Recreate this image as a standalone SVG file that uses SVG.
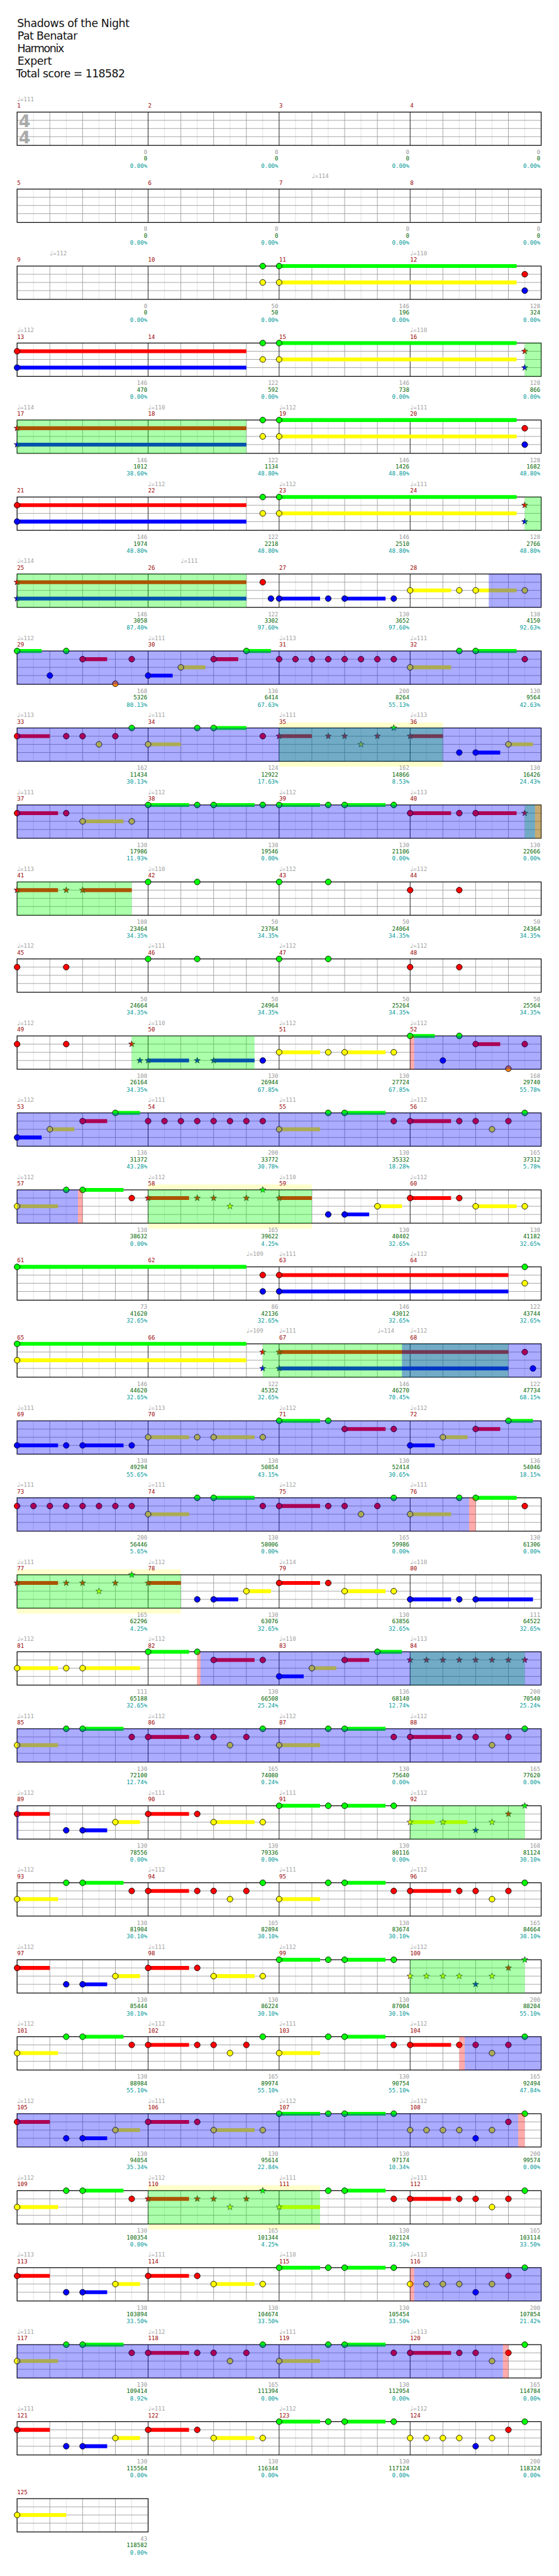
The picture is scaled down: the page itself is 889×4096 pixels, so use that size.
<svg xmlns="http://www.w3.org/2000/svg" width="889" height="4096" viewBox="0 0 889 4096">
<style>
text{font-family:"DejaVu Sans Mono","Liberation Mono",monospace;font-size:10.5px}
.ti{font-family:"DejaVu Sans","Liberation Sans",sans-serif;font-size:20px;fill:#111}
.ts{font-family:"DejaVu Sans","Liberation Sans",sans-serif;font-size:31px;font-weight:bold;fill:#aaa}
.mn{fill:#900}
.tp{fill:#a0a0a0}
.q{font-family:"DejaVu Sans",sans-serif;font-size:12px}
.a,.b,.c{text-anchor:end}
.a{fill:#999}.b{fill:#060}.c{fill:#099}
.lG,.lR,.lY,.lB{stroke-width:7;fill:none}
.lG{stroke:#0f0}.lR{stroke:#f00}.lY{stroke:#ff0}.lB{stroke:#00f}
.n{stroke:#000;stroke-width:1}
.sn{stroke:#222;stroke-width:.8}
.ob{fill:#00f;fill-opacity:.33}.og{fill:#0f0;fill-opacity:.33}.orr{fill:#f00;fill-opacity:.33}
.yb{fill:#ffc}
</style>
<defs>
<circle id="G" r="5.3" class="n" fill="#0f0"/>
<circle id="R" cy="15" r="5.3" class="n" fill="#f00"/>
<circle id="Y" cy="30" r="5.3" class="n" fill="#ff0"/>
<circle id="B" cy="45" r="5.3" class="n" fill="#00f"/>
<circle id="O" cy="60" r="5.3" class="n" fill="#f80"/>
<path id="st" class="sn" d="M0-6L1.41-1.94 5.71-1.85 2.28.74 3.53 4.85 0 2.4-3.53 4.85-2.28.74-5.71-1.85-1.41-1.94Z"/>
<use id="sG" href="#st" fill="#0f0"/>
<use id="sR" href="#st" y="15" fill="#f00"/>
<use id="sY" href="#st" y="30" fill="#ff0"/>
<use id="sB" href="#st" y="45" fill="#00f"/>
<g id="staff4">
<rect width="960" height="61" fill="#fff"/>
<path stroke="#ddd" d="M30 0V61M90 0V61M150 0V61M210 0V61M270 0V61M330 0V61M390 0V61M450 0V61M510 0V61M570 0V61M630 0V61M690 0V61M750 0V61M810 0V61M870 0V61M930 0V61"/>
<path stroke="#999" d="M60 0V61M120 0V61M180 0V61M300 0V61M360 0V61M420 0V61M540 0V61M600 0V61M660 0V61M780 0V61M840 0V61M900 0V61M0 15H960M0 30H960M0 45H960"/>
<path stroke="#000" d="M240 0V61M480 0V61M720 0V61"/>
<rect width="960" height="61" fill="none" stroke="#000" stroke-width="1.4"/>
</g>
<g id="staff1">
<rect width="240" height="61" fill="#fff"/>
<path stroke="#ddd" d="M30 0V61M90 0V61M150 0V61M210 0V61"/>
<path stroke="#999" d="M60 0V61M120 0V61M180 0V61M0 15H240M0 30H240M0 45H240"/>
<rect width="240" height="61" fill="none" stroke="#000" stroke-width="1.4"/>
</g>
<g id="mA1"><path class="lY" d="M0 30H75"/><path class="lG" d="M120 0H195"/><use href="#Y"/><use href="#G" x="90"/><use href="#G" x="120"/><use href="#R" x="210"/></g>
<g id="mA2"><path class="lR" d="M0 15H75"/><use href="#R"/><use href="#R" x="90"/><use href="#R" x="120"/><use href="#Y" x="150"/><use href="#R" x="180"/><use href="#G" x="210"/></g>
<g id="mB1"><path class="lR" d="M0 15H60"/><path class="lB" d="M120 45H165"/><path class="lY" d="M180 30H225"/><use href="#R"/><use href="#B" x="90"/><use href="#B" x="120"/><use href="#Y" x="180"/></g>
<g id="mB2"><path class="lR" d="M0 15H75"/><path class="lY" d="M120 30H195"/><use href="#R"/><use href="#R" x="90"/><use href="#Y" x="120"/><use href="#Y" x="210"/></g>
<g id="mB3"><path class="lG" d="M0 0H75M120 0H195"/><use href="#G"/><use href="#G" x="90"/><use href="#G" x="120"/><use href="#G" x="210"/></g>
<g id="mB4"><use href="#Y"/><use href="#Y" x="30"/><use href="#Y" x="60"/><use href="#Y" x="90"/><use href="#B" x="120"/><use href="#Y" x="150"/><use href="#R" x="180"/><use href="#G" x="210"/></g>
</defs>
<rect width="889" height="4096" fill="#fff"/>
<g transform="scale(0.868164)">
<g id="title">
<text class="ti" x="31.3" y="49.5" textLength="206">Shadows of the Night</text>
<text class="ti" x="32" y="72.5" textLength="110">Pat Benatar</text>
<text class="ti" x="31.7" y="95.5" textLength="86">Harmonix</text>
<text class="ti" x="32" y="118.5" textLength="63">Expert</text>
<text class="ti" x="29.3" y="141.5" textLength="200">Total score = 118582</text>
</g>

<g id="row1" transform="translate(31.3,205.3)">
<use href="#staff4"/>
<text class="ts" x="3" y="27">4</text><text class="ts" x="3" y="57">4</text>
<text class="mn" y="-8"><tspan x="0">1</tspan><tspan x="240">2</tspan><tspan x="480">3</tspan><tspan x="720">4</tspan></text>
<text class="tp" x="0" y="-20"><tspan class="q">♩</tspan>=111</text>
<text class="a" y="77"><tspan x="238.5">0</tspan><tspan x="478.5">0</tspan><tspan x="718.5">0</tspan><tspan x="958.5">0</tspan></text>
<text class="b" y="89"><tspan x="238.5">0</tspan><tspan x="478.5">0</tspan><tspan x="718.5">0</tspan><tspan x="958.5">0</tspan></text>
<text class="c" y="102"><tspan x="238.5">0.00%</tspan><tspan x="478.5">0.00%</tspan><tspan x="718.5">0.00%</tspan><tspan x="958.5">0.00%</tspan></text>
</g>

<g id="row2" transform="translate(31.3,346.3)">
<use href="#staff4"/>
<text class="mn" y="-8"><tspan x="0">5</tspan><tspan x="240">6</tspan><tspan x="480">7</tspan><tspan x="720">8</tspan></text>
<text class="tp" x="540" y="-20"><tspan class="q">♩</tspan>=114</text>
<text class="a" y="77"><tspan x="238.5">0</tspan><tspan x="478.5">0</tspan><tspan x="718.5">0</tspan><tspan x="958.5">0</tspan></text>
<text class="b" y="89"><tspan x="238.5">0</tspan><tspan x="478.5">0</tspan><tspan x="718.5">0</tspan><tspan x="958.5">0</tspan></text>
<text class="c" y="102"><tspan x="238.5">0.00%</tspan><tspan x="478.5">0.00%</tspan><tspan x="718.5">0.00%</tspan><tspan x="958.5">0.00%</tspan></text>
</g>

<g id="row3" transform="translate(31.3,487.3)">
<use href="#staff4"/>
<path class="lG" d="M480 0H915"/><path class="lY" d="M480 30H915"/>
<use href="#G" x="450"/><use href="#Y" x="450"/><use href="#G" x="480"/><use href="#Y" x="480"/><use href="#R" x="930"/><use href="#B" x="930"/>
<text class="mn" y="-8"><tspan x="0">9</tspan><tspan x="240">10</tspan><tspan x="480">11</tspan><tspan x="720">12</tspan></text>
<text class="tp" x="60" y="-20"><tspan class="q">♩</tspan>=112</text>
<text class="tp" x="720" y="-20"><tspan class="q">♩</tspan>=110</text>
<text class="a" y="77"><tspan x="238.5">0</tspan><tspan x="478.5">50</tspan><tspan x="718.5">146</tspan><tspan x="958.5">128</tspan></text>
<text class="b" y="89"><tspan x="238.5">0</tspan><tspan x="478.5">50</tspan><tspan x="718.5">196</tspan><tspan x="958.5">324</tspan></text>
<text class="c" y="102"><tspan x="238.5">0.00%</tspan><tspan x="478.5">0.00%</tspan><tspan x="718.5">0.00%</tspan><tspan x="958.5">0.00%</tspan></text>
</g>

<g id="row4" transform="translate(31.3,628.3)">
<use href="#staff4"/>
<path class="lR" d="M0 15H420"/><path class="lB" d="M0 45H420"/><path class="lG" d="M480 0H915"/><path class="lY" d="M480 30H915"/>
<use href="#R"/><use href="#B"/><use href="#G" x="450"/><use href="#Y" x="450"/><use href="#G" x="480"/><use href="#Y" x="480"/><use href="#sR" x="930"/><use href="#sB" x="930"/>
<rect class="og" x="930" width="30" height="61"/>
<text class="mn" y="-8"><tspan x="0">13</tspan><tspan x="240">14</tspan><tspan x="480">15</tspan><tspan x="720">16</tspan></text>
<text class="tp" x="0" y="-20"><tspan class="q">♩</tspan>=112</text>
<text class="tp" x="720" y="-20"><tspan class="q">♩</tspan>=110</text>
<text class="a" y="77"><tspan x="238.5">146</tspan><tspan x="478.5">122</tspan><tspan x="718.5">146</tspan><tspan x="958.5">128</tspan></text>
<text class="b" y="89"><tspan x="238.5">470</tspan><tspan x="478.5">592</tspan><tspan x="718.5">738</tspan><tspan x="958.5">866</tspan></text>
<text class="c" y="102"><tspan x="238.5">0.00%</tspan><tspan x="478.5">0.00%</tspan><tspan x="718.5">0.00%</tspan><tspan x="958.5">0.00%</tspan></text>
</g>

<g id="row5" transform="translate(31.3,769.3)">
<use href="#staff4"/>
<path class="lR" d="M0 15H420"/><path class="lB" d="M0 45H420"/><path class="lG" d="M480 0H915"/><path class="lY" d="M480 30H915"/>
<use href="#sR"/><use href="#sB"/><use href="#G" x="450"/><use href="#Y" x="450"/><use href="#G" x="480"/><use href="#Y" x="480"/><use href="#R" x="930"/><use href="#B" x="930"/>
<rect class="og" x="0" width="420" height="61"/>
<text class="mn" y="-8"><tspan x="0">17</tspan><tspan x="240">18</tspan><tspan x="480">19</tspan><tspan x="720">20</tspan></text>
<text class="tp" x="0" y="-20"><tspan class="q">♩</tspan>=114</text>
<text class="tp" x="240" y="-20"><tspan class="q">♩</tspan>=110</text>
<text class="tp" x="480" y="-20"><tspan class="q">♩</tspan>=112</text>
<text class="tp" x="720" y="-20"><tspan class="q">♩</tspan>=111</text>
<text class="a" y="77"><tspan x="238.5">146</tspan><tspan x="478.5">122</tspan><tspan x="718.5">146</tspan><tspan x="958.5">128</tspan></text>
<text class="b" y="89"><tspan x="238.5">1012</tspan><tspan x="478.5">1134</tspan><tspan x="718.5">1426</tspan><tspan x="958.5">1682</tspan></text>
<text class="c" y="102"><tspan x="238.5">38.60%</tspan><tspan x="478.5">48.80%</tspan><tspan x="718.5">48.80%</tspan><tspan x="958.5">48.80%</tspan></text>
</g>

<g id="row6" transform="translate(31.3,910.3)">
<use href="#staff4"/>
<path class="lR" d="M0 15H420"/><path class="lB" d="M0 45H420"/><path class="lG" d="M480 0H915"/><path class="lY" d="M480 30H915"/>
<use href="#R"/><use href="#B"/><use href="#G" x="450"/><use href="#Y" x="450"/><use href="#G" x="480"/><use href="#Y" x="480"/><use href="#sR" x="930"/><use href="#sB" x="930"/>
<rect class="og" x="930" width="30" height="61"/>
<text class="mn" y="-8"><tspan x="0">21</tspan><tspan x="240">22</tspan><tspan x="480">23</tspan><tspan x="720">24</tspan></text>
<text class="tp" x="240" y="-20"><tspan class="q">♩</tspan>=112</text>
<text class="tp" x="480" y="-20"><tspan class="q">♩</tspan>=112</text>
<text class="tp" x="720" y="-20"><tspan class="q">♩</tspan>=111</text>
<text class="a" y="77"><tspan x="238.5">146</tspan><tspan x="478.5">122</tspan><tspan x="718.5">146</tspan><tspan x="958.5">128</tspan></text>
<text class="b" y="89"><tspan x="238.5">1974</tspan><tspan x="478.5">2218</tspan><tspan x="718.5">2510</tspan><tspan x="958.5">2766</tspan></text>
<text class="c" y="102"><tspan x="238.5">48.80%</tspan><tspan x="478.5">48.80%</tspan><tspan x="718.5">48.80%</tspan><tspan x="958.5">48.80%</tspan></text>
</g>

<g id="row7" transform="translate(31.3,1051.3)">
<use href="#staff4"/>
<path class="lR" d="M0 15H420"/><path class="lB" d="M0 45H420M480 45H555M600 45H675"/><path class="lY" d="M720 30H795M840 30H915"/>
<use href="#sR"/><use href="#sB"/><use href="#R" x="450"/><use href="#B" x="465"/><use href="#B" x="480"/><use href="#B" x="570"/><use href="#B" x="600"/><use href="#B" x="690"/><use href="#Y" x="720"/><use href="#Y" x="810"/><use href="#Y" x="840"/><use href="#Y" x="930"/>
<rect class="og" x="0" width="420" height="61"/><rect class="ob" x="864" width="96" height="61"/>
<text class="mn" y="-8"><tspan x="0">25</tspan><tspan x="240">26</tspan><tspan x="480">27</tspan><tspan x="720">28</tspan></text>
<text class="tp" x="0" y="-20"><tspan class="q">♩</tspan>=114</text>
<text class="tp" x="300" y="-20"><tspan class="q">♩</tspan>=111</text>
<text class="a" y="77"><tspan x="238.5">146</tspan><tspan x="478.5">122</tspan><tspan x="718.5">130</tspan><tspan x="958.5">130</tspan></text>
<text class="b" y="89"><tspan x="238.5">3058</tspan><tspan x="478.5">3302</tspan><tspan x="718.5">3652</tspan><tspan x="958.5">4150</tspan></text>
<text class="c" y="102"><tspan x="238.5">87.40%</tspan><tspan x="478.5">97.60%</tspan><tspan x="718.5">97.60%</tspan><tspan x="958.5">92.63%</tspan></text>
</g>

<g id="row8" transform="translate(31.3,1192.3)">
<use href="#staff4"/>
<path class="lG" d="M0 0H45M420 0H465M840 0H915"/><path class="lR" d="M120 15H165M360 15H405"/><path class="lB" d="M240 45H285"/><path class="lY" d="M300 30H345M720 30H795"/>
<use href="#G"/><use href="#B" x="60"/><use href="#G" x="90"/><use href="#R" x="120"/><use href="#O" x="180"/><use href="#R" x="210"/><use href="#B" x="240"/><use href="#Y" x="300"/><use href="#R" x="360"/><use href="#G" x="420"/><use href="#R" x="480"/><use href="#R" x="510"/><use href="#R" x="540"/><use href="#R" x="570"/><use href="#R" x="600"/><use href="#R" x="630"/><use href="#R" x="660"/><use href="#R" x="690"/><use href="#Y" x="720"/><use href="#G" x="810"/><use href="#G" x="840"/><use href="#R" x="930"/>
<rect class="ob" x="0" width="960" height="61"/>
<text class="mn" y="-8"><tspan x="0">29</tspan><tspan x="240">30</tspan><tspan x="480">31</tspan><tspan x="720">32</tspan></text>
<text class="tp" x="0" y="-20"><tspan class="q">♩</tspan>=112</text>
<text class="tp" x="240" y="-20"><tspan class="q">♩</tspan>=111</text>
<text class="tp" x="480" y="-20"><tspan class="q">♩</tspan>=113</text>
<text class="tp" x="720" y="-20"><tspan class="q">♩</tspan>=111</text>
<text class="a" y="77"><tspan x="238.5">168</tspan><tspan x="478.5">136</tspan><tspan x="718.5">200</tspan><tspan x="958.5">130</tspan></text>
<text class="b" y="89"><tspan x="238.5">5326</tspan><tspan x="478.5">6414</tspan><tspan x="718.5">8264</tspan><tspan x="958.5">9564</tspan></text>
<text class="c" y="102"><tspan x="238.5">80.13%</tspan><tspan x="478.5">67.63%</tspan><tspan x="718.5">55.13%</tspan><tspan x="958.5">42.63%</tspan></text>
</g>

<g id="row9" transform="translate(31.3,1333.3)">
<rect class="yb" x="480" y="-10" width="300" height="81"/>
<use href="#staff4"/>
<path class="lR" d="M0 15H60M480 15H540M720 15H780"/><path class="lY" d="M240 30H300M900 30H945"/><path class="lG" d="M360 0H420"/><path class="lB" d="M840 45H885"/>
<use href="#R"/><use href="#R" x="90"/><use href="#R" x="120"/><use href="#Y" x="150"/><use href="#R" x="180"/><use href="#G" x="210"/><use href="#Y" x="240"/><use href="#G" x="330"/><use href="#G" x="360"/><use href="#R" x="450"/><use href="#sR" x="480"/><use href="#sR" x="570"/><use href="#sR" x="600"/><use href="#sY" x="630"/><use href="#sR" x="660"/><use href="#sG" x="690"/><use href="#sR" x="720"/><use href="#B" x="810"/><use href="#B" x="840"/><use href="#Y" x="900"/>
<rect class="og" x="480" width="300" height="61"/><rect class="ob" x="0" width="960" height="61"/>
<text class="mn" y="-8"><tspan x="0">33</tspan><tspan x="240">34</tspan><tspan x="480">35</tspan><tspan x="720">36</tspan></text>
<text class="tp" x="0" y="-20"><tspan class="q">♩</tspan>=113</text>
<text class="tp" x="240" y="-20"><tspan class="q">♩</tspan>=111</text>
<text class="tp" x="480" y="-20"><tspan class="q">♩</tspan>=111</text>
<text class="tp" x="720" y="-20"><tspan class="q">♩</tspan>=113</text>
<text class="a" y="77"><tspan x="238.5">162</tspan><tspan x="478.5">124</tspan><tspan x="718.5">162</tspan><tspan x="958.5">130</tspan></text>
<text class="b" y="89"><tspan x="238.5">11434</tspan><tspan x="478.5">12922</tspan><tspan x="718.5">14866</tspan><tspan x="958.5">16426</tspan></text>
<text class="c" y="102"><tspan x="238.5">30.13%</tspan><tspan x="478.5">17.63%</tspan><tspan x="718.5">8.53%</tspan><tspan x="958.5">24.43%</tspan></text>
</g>

<g id="row10" transform="translate(31.3,1474.3)">
<use href="#staff4"/>
<path class="lR" d="M0 15H75M720 15H795M840 15H915"/><path class="lY" d="M120 30H195"/><path class="lG" d="M240 0H315M360 0H435M480 0H555M600 0H675"/>
<use href="#R"/><use href="#R" x="90"/><use href="#Y" x="120"/><use href="#Y" x="210"/><use href="#G" x="240"/><use href="#G" x="330"/><use href="#G" x="360"/><use href="#G" x="450"/><use href="#G" x="480"/><use href="#G" x="570"/><use href="#G" x="600"/><use href="#G" x="690"/><use href="#R" x="720"/><use href="#R" x="810"/><use href="#R" x="840"/><use href="#sR" x="930"/>
<rect class="og" x="930" width="30" height="61"/><rect class="ob" x="0" width="948.75" height="61"/><rect class="orr" x="948.75" width="11.25" height="61"/>
<text class="mn" y="-8"><tspan x="0">37</tspan><tspan x="240">38</tspan><tspan x="480">39</tspan><tspan x="720">40</tspan></text>
<text class="tp" x="0" y="-20"><tspan class="q">♩</tspan>=111</text>
<text class="tp" x="240" y="-20"><tspan class="q">♩</tspan>=112</text>
<text class="tp" x="480" y="-20"><tspan class="q">♩</tspan>=112</text>
<text class="tp" x="720" y="-20"><tspan class="q">♩</tspan>=113</text>
<text class="a" y="77"><tspan x="238.5">130</tspan><tspan x="478.5">130</tspan><tspan x="718.5">130</tspan><tspan x="958.5">130</tspan></text>
<text class="b" y="89"><tspan x="238.5">17986</tspan><tspan x="478.5">19546</tspan><tspan x="718.5">21106</tspan><tspan x="958.5">22666</tspan></text>
<text class="c" y="102"><tspan x="238.5">11.93%</tspan><tspan x="478.5">0.00%</tspan><tspan x="718.5">0.00%</tspan><tspan x="958.5">0.00%</tspan></text>
</g>

<g id="row11" transform="translate(31.3,1615.3)">
<use href="#staff4"/>
<path class="lR" d="M0 15H75M120 15H210"/>
<use href="#sR"/><use href="#sR" x="90"/><use href="#sR" x="120"/><use href="#G" x="240"/><use href="#G" x="330"/><use href="#G" x="480"/><use href="#G" x="570"/><use href="#R" x="720"/><use href="#R" x="810"/>
<rect class="og" x="0" width="210" height="61"/>
<text class="mn" y="-8"><tspan x="0">41</tspan><tspan x="240">42</tspan><tspan x="480">43</tspan><tspan x="720">44</tspan></text>
<text class="tp" x="0" y="-20"><tspan class="q">♩</tspan>=113</text>
<text class="tp" x="240" y="-20"><tspan class="q">♩</tspan>=110</text>
<text class="tp" x="480" y="-20"><tspan class="q">♩</tspan>=112</text>
<text class="tp" x="720" y="-20"><tspan class="q">♩</tspan>=112</text>
<text class="a" y="77"><tspan x="238.5">108</tspan><tspan x="478.5">50</tspan><tspan x="718.5">50</tspan><tspan x="958.5">50</tspan></text>
<text class="b" y="89"><tspan x="238.5">23464</tspan><tspan x="478.5">23764</tspan><tspan x="718.5">24064</tspan><tspan x="958.5">24364</tspan></text>
<text class="c" y="102"><tspan x="238.5">34.35%</tspan><tspan x="478.5">34.35%</tspan><tspan x="718.5">34.35%</tspan><tspan x="958.5">34.35%</tspan></text>
</g>

<g id="row12" transform="translate(31.3,1756.3)">
<use href="#staff4"/>
<use href="#R"/><use href="#R" x="90"/><use href="#G" x="240"/><use href="#G" x="330"/><use href="#G" x="480"/><use href="#G" x="570"/><use href="#R" x="720"/><use href="#R" x="810"/>
<text class="mn" y="-8"><tspan x="0">45</tspan><tspan x="240">46</tspan><tspan x="480">47</tspan><tspan x="720">48</tspan></text>
<text class="tp" x="0" y="-20"><tspan class="q">♩</tspan>=112</text>
<text class="tp" x="240" y="-20"><tspan class="q">♩</tspan>=111</text>
<text class="tp" x="480" y="-20"><tspan class="q">♩</tspan>=112</text>
<text class="tp" x="720" y="-20"><tspan class="q">♩</tspan>=112</text>
<text class="a" y="77"><tspan x="238.5">50</tspan><tspan x="478.5">50</tspan><tspan x="718.5">50</tspan><tspan x="958.5">50</tspan></text>
<text class="b" y="89"><tspan x="238.5">24664</tspan><tspan x="478.5">24964</tspan><tspan x="718.5">25264</tspan><tspan x="958.5">25564</tspan></text>
<text class="c" y="102"><tspan x="238.5">34.35%</tspan><tspan x="478.5">34.35%</tspan><tspan x="718.5">34.35%</tspan><tspan x="958.5">34.35%</tspan></text>
</g>

<g id="row13" transform="translate(31.3,1897.3)">
<use href="#staff4"/>
<path class="lB" d="M240 45H315M360 45H435"/><path class="lY" d="M480 30H555M600 30H675"/><path class="lG" d="M720 0H765"/><path class="lR" d="M840 15H885"/>
<use href="#R"/><use href="#R" x="90"/><use href="#sR" x="210"/><use href="#sB" x="225"/><use href="#sB" x="240"/><use href="#sB" x="330"/><use href="#sB" x="360"/><use href="#B" x="450"/><use href="#Y" x="480"/><use href="#Y" x="570"/><use href="#Y" x="600"/><use href="#Y" x="690"/><use href="#G" x="720"/><use href="#B" x="780"/><use href="#G" x="810"/><use href="#R" x="840"/><use href="#O" x="900"/><use href="#R" x="930"/>
<rect class="og" x="210" width="225" height="61"/><rect class="orr" x="720" width="7.5" height="61"/><rect class="ob" x="727.5" width="232.5" height="61"/>
<text class="mn" y="-8"><tspan x="0">49</tspan><tspan x="240">50</tspan><tspan x="480">51</tspan><tspan x="720">52</tspan></text>
<text class="tp" x="0" y="-20"><tspan class="q">♩</tspan>=112</text>
<text class="tp" x="240" y="-20"><tspan class="q">♩</tspan>=110</text>
<text class="tp" x="480" y="-20"><tspan class="q">♩</tspan>=112</text>
<text class="tp" x="720" y="-20"><tspan class="q">♩</tspan>=112</text>
<text class="a" y="77"><tspan x="238.5">100</tspan><tspan x="478.5">130</tspan><tspan x="718.5">130</tspan><tspan x="958.5">168</tspan></text>
<text class="b" y="89"><tspan x="238.5">26164</tspan><tspan x="478.5">26944</tspan><tspan x="718.5">27724</tspan><tspan x="958.5">29740</tspan></text>
<text class="c" y="102"><tspan x="238.5">34.35%</tspan><tspan x="478.5">67.85%</tspan><tspan x="718.5">67.85%</tspan><tspan x="958.5">55.78%</tspan></text>
</g>

<g id="row14" transform="translate(31.3,2038.3)">
<use href="#staff4"/>
<path class="lB" d="M0 45H45"/><path class="lY" d="M60 30H105"/><path class="lR" d="M120 15H165"/><path class="lG" d="M180 0H225"/>
<use href="#B"/><use href="#Y" x="60"/><use href="#R" x="120"/><use href="#G" x="180"/><use href="#R" x="240"/><use href="#R" x="270"/><use href="#R" x="300"/><use href="#R" x="330"/><use href="#R" x="360"/><use href="#R" x="390"/><use href="#R" x="420"/><use href="#R" x="450"/>
<use href="#mA1" x="480"/><use href="#mA2" x="720"/>
<rect class="ob" x="0" width="960" height="61"/>
<text class="mn" y="-8"><tspan x="0">53</tspan><tspan x="240">54</tspan><tspan x="480">55</tspan><tspan x="720">56</tspan></text>
<text class="tp" x="0" y="-20"><tspan class="q">♩</tspan>=112</text>
<text class="tp" x="240" y="-20"><tspan class="q">♩</tspan>=111</text>
<text class="tp" x="480" y="-20"><tspan class="q">♩</tspan>=111</text>
<text class="tp" x="720" y="-20"><tspan class="q">♩</tspan>=112</text>
<text class="a" y="77"><tspan x="238.5">136</tspan><tspan x="478.5">200</tspan><tspan x="718.5">130</tspan><tspan x="958.5">165</tspan></text>
<text class="b" y="89"><tspan x="238.5">31372</tspan><tspan x="478.5">33772</tspan><tspan x="718.5">35332</tspan><tspan x="958.5">37312</tspan></text>
<text class="c" y="102"><tspan x="238.5">43.28%</tspan><tspan x="478.5">30.78%</tspan><tspan x="718.5">18.28%</tspan><tspan x="958.5">5.78%</tspan></text>
</g>

<g id="row15" transform="translate(31.3,2179.3)">
<rect class="yb" x="240" y="-10" width="300" height="81"/>
<use href="#staff4"/>
<path class="lY" d="M0 30H75M660 30H705M840 30H915"/><path class="lG" d="M120 0H195"/><path class="lR" d="M240 15H315M480 15H540M720 15H795"/><path class="lB" d="M600 45H645"/>
<use href="#Y"/><use href="#G" x="90"/><use href="#G" x="120"/><use href="#R" x="210"/><use href="#sR" x="240"/><use href="#sR" x="330"/><use href="#sR" x="360"/><use href="#sY" x="390"/><use href="#sR" x="420"/><use href="#sG" x="450"/><use href="#sR" x="480"/><use href="#B" x="570"/><use href="#B" x="600"/><use href="#Y" x="660"/><use href="#R" x="720"/><use href="#R" x="810"/><use href="#Y" x="840"/><use href="#Y" x="930"/>
<rect class="og" x="240" width="300" height="61"/><rect class="ob" x="0" width="111.5" height="61"/><rect class="orr" x="111.5" width="8.5" height="61"/>
<text class="mn" y="-8"><tspan x="0">57</tspan><tspan x="240">58</tspan><tspan x="480">59</tspan><tspan x="720">60</tspan></text>
<text class="tp" x="0" y="-20"><tspan class="q">♩</tspan>=112</text>
<text class="tp" x="240" y="-20"><tspan class="q">♩</tspan>=112</text>
<text class="tp" x="480" y="-20"><tspan class="q">♩</tspan>=110</text>
<text class="tp" x="720" y="-20"><tspan class="q">♩</tspan>=112</text>
<text class="a" y="77"><tspan x="238.5">130</tspan><tspan x="478.5">165</tspan><tspan x="718.5">130</tspan><tspan x="958.5">130</tspan></text>
<text class="b" y="89"><tspan x="238.5">38632</tspan><tspan x="478.5">39622</tspan><tspan x="718.5">40402</tspan><tspan x="958.5">41182</tspan></text>
<text class="c" y="102"><tspan x="238.5">0.00%</tspan><tspan x="478.5">4.25%</tspan><tspan x="718.5">32.65%</tspan><tspan x="958.5">32.65%</tspan></text>
</g>

<g id="row16" transform="translate(31.3,2320.3)">
<use href="#staff4"/>
<path class="lG" d="M0 0H420"/><path class="lR" d="M480 15H900"/><path class="lB" d="M480 45H900"/>
<use href="#G"/><use href="#R" x="450"/><use href="#B" x="450"/><use href="#R" x="480"/><use href="#B" x="480"/><use href="#G" x="930"/><use href="#Y" x="930"/>
<text class="mn" y="-8"><tspan x="0">61</tspan><tspan x="240">62</tspan><tspan x="480">63</tspan><tspan x="720">64</tspan></text>
<text class="tp" x="420" y="-20"><tspan class="q">♩</tspan>=109</text>
<text class="tp" x="480" y="-20"><tspan class="q">♩</tspan>=111</text>
<text class="tp" x="720" y="-20"><tspan class="q">♩</tspan>=112</text>
<text class="a" y="77"><tspan x="238.5">73</tspan><tspan x="478.5">86</tspan><tspan x="718.5">146</tspan><tspan x="958.5">122</tspan></text>
<text class="b" y="89"><tspan x="238.5">41620</tspan><tspan x="478.5">42136</tspan><tspan x="718.5">43012</tspan><tspan x="958.5">43744</tspan></text>
<text class="c" y="102"><tspan x="238.5">32.65%</tspan><tspan x="478.5">32.65%</tspan><tspan x="718.5">32.65%</tspan><tspan x="958.5">32.65%</tspan></text>
</g>

<g id="row17" transform="translate(31.3,2461.3)">
<use href="#staff4"/>
<path class="lG" d="M0 0H420"/><path class="lY" d="M0 30H420"/><path class="lR" d="M480 15H900"/><path class="lB" d="M480 45H900"/>
<use href="#G"/><use href="#Y"/><use href="#sR" x="450"/><use href="#sB" x="450"/><use href="#sR" x="480"/><use href="#sB" x="480"/><use href="#R" x="930"/><use href="#B" x="945"/>
<rect class="og" x="450" width="450" height="61"/><rect class="ob" x="705" width="255" height="61"/>
<text class="mn" y="-8"><tspan x="0">65</tspan><tspan x="240">66</tspan><tspan x="480">67</tspan><tspan x="720">68</tspan></text>
<text class="tp" x="420" y="-20"><tspan class="q">♩</tspan>=109</text>
<text class="tp" x="480" y="-20"><tspan class="q">♩</tspan>=111</text>
<text class="tp" x="660" y="-20"><tspan class="q">♩</tspan>=114</text>
<text class="tp" x="720" y="-20"><tspan class="q">♩</tspan>=112</text>
<text class="a" y="77"><tspan x="238.5">146</tspan><tspan x="478.5">122</tspan><tspan x="718.5">146</tspan><tspan x="958.5">122</tspan></text>
<text class="b" y="89"><tspan x="238.5">44620</tspan><tspan x="478.5">45352</tspan><tspan x="718.5">46270</tspan><tspan x="958.5">47734</tspan></text>
<text class="c" y="102"><tspan x="238.5">32.65%</tspan><tspan x="478.5">32.65%</tspan><tspan x="718.5">70.45%</tspan><tspan x="958.5">68.15%</tspan></text>
</g>

<g id="row18" transform="translate(31.3,2602.3)">
<use href="#staff4"/>
<path class="lB" d="M0 45H75M120 45H195M720 45H765"/><path class="lY" d="M240 30H315M360 30H435M780 30H825"/><path class="lG" d="M480 0H555M900 0H945"/><path class="lR" d="M600 15H675M840 15H885"/>
<use href="#B"/><use href="#B" x="90"/><use href="#B" x="120"/><use href="#B" x="210"/><use href="#Y" x="240"/><use href="#Y" x="330"/><use href="#Y" x="360"/><use href="#Y" x="450"/><use href="#G" x="480"/><use href="#G" x="570"/><use href="#R" x="600"/><use href="#R" x="690"/><use href="#B" x="720"/><use href="#Y" x="780"/><use href="#R" x="840"/><use href="#G" x="900"/>
<rect class="ob" x="0" width="960" height="61"/>
<text class="mn" y="-8"><tspan x="0">69</tspan><tspan x="240">70</tspan><tspan x="480">71</tspan><tspan x="720">72</tspan></text>
<text class="tp" x="0" y="-20"><tspan class="q">♩</tspan>=111</text>
<text class="tp" x="240" y="-20"><tspan class="q">♩</tspan>=113</text>
<text class="tp" x="480" y="-20"><tspan class="q">♩</tspan>=112</text>
<text class="tp" x="720" y="-20"><tspan class="q">♩</tspan>=112</text>
<text class="a" y="77"><tspan x="238.5">130</tspan><tspan x="478.5">130</tspan><tspan x="718.5">130</tspan><tspan x="958.5">136</tspan></text>
<text class="b" y="89"><tspan x="238.5">49294</tspan><tspan x="478.5">50854</tspan><tspan x="718.5">52414</tspan><tspan x="958.5">54046</tspan></text>
<text class="c" y="102"><tspan x="238.5">55.65%</tspan><tspan x="478.5">43.15%</tspan><tspan x="718.5">30.65%</tspan><tspan x="958.5">18.15%</tspan></text>
</g>

<g id="row19" transform="translate(31.3,2743.3)">
<use href="#staff4"/>
<path class="lY" d="M240 30H315"/><path class="lG" d="M360 0H435"/>
<use href="#R"/><use href="#R" x="30"/><use href="#R" x="60"/><use href="#R" x="90"/><use href="#R" x="120"/><use href="#R" x="150"/><use href="#R" x="180"/><use href="#R" x="210"/><use href="#Y" x="240"/><use href="#G" x="330"/><use href="#G" x="360"/><use href="#R" x="450"/>
<use href="#mA2" x="480"/><use href="#mA1" x="720"/>
<rect class="ob" x="0" width="828" height="61"/><rect class="orr" x="828" width="12" height="61"/>
<text class="mn" y="-8"><tspan x="0">73</tspan><tspan x="240">74</tspan><tspan x="480">75</tspan><tspan x="720">76</tspan></text>
<text class="tp" x="0" y="-20"><tspan class="q">♩</tspan>=111</text>
<text class="tp" x="240" y="-20"><tspan class="q">♩</tspan>=111</text>
<text class="tp" x="480" y="-20"><tspan class="q">♩</tspan>=112</text>
<text class="tp" x="720" y="-20"><tspan class="q">♩</tspan>=111</text>
<text class="a" y="77"><tspan x="238.5">200</tspan><tspan x="478.5">130</tspan><tspan x="718.5">165</tspan><tspan x="958.5">130</tspan></text>
<text class="b" y="89"><tspan x="238.5">56446</tspan><tspan x="478.5">58006</tspan><tspan x="718.5">59986</tspan><tspan x="958.5">61306</tspan></text>
<text class="c" y="102"><tspan x="238.5">5.65%</tspan><tspan x="478.5">0.00%</tspan><tspan x="718.5">0.00%</tspan><tspan x="958.5">0.00%</tspan></text>
</g>

<g id="row20" transform="translate(31.3,2884.3)">
<rect class="yb" x="0" y="-10" width="300" height="81"/>
<use href="#staff4"/>
<path class="lR" d="M0 15H75M240 15H300M480 15H555"/><path class="lB" d="M360 45H405M720 45H795M840 45H945"/><path class="lY" d="M420 30H465M600 30H675"/>
<use href="#sR"/><use href="#sR" x="90"/><use href="#sR" x="120"/><use href="#sY" x="150"/><use href="#sR" x="180"/><use href="#sG" x="210"/><use href="#sR" x="240"/><use href="#B" x="330"/><use href="#B" x="360"/><use href="#Y" x="420"/><use href="#R" x="480"/><use href="#R" x="570"/><use href="#Y" x="600"/><use href="#Y" x="690"/><use href="#B" x="720"/><use href="#B" x="810"/><use href="#B" x="840"/>
<rect class="og" x="0" width="300" height="61"/>
<text class="mn" y="-8"><tspan x="0">77</tspan><tspan x="240">78</tspan><tspan x="480">79</tspan><tspan x="720">80</tspan></text>
<text class="tp" x="0" y="-20"><tspan class="q">♩</tspan>=111</text>
<text class="tp" x="240" y="-20"><tspan class="q">♩</tspan>=112</text>
<text class="tp" x="480" y="-20"><tspan class="q">♩</tspan>=114</text>
<text class="tp" x="720" y="-20"><tspan class="q">♩</tspan>=110</text>
<text class="a" y="77"><tspan x="238.5">165</tspan><tspan x="478.5">130</tspan><tspan x="718.5">130</tspan><tspan x="958.5">111</tspan></text>
<text class="b" y="89"><tspan x="238.5">62296</tspan><tspan x="478.5">63076</tspan><tspan x="718.5">63856</tspan><tspan x="958.5">64522</tspan></text>
<text class="c" y="102"><tspan x="238.5">4.25%</tspan><tspan x="478.5">32.65%</tspan><tspan x="718.5">32.65%</tspan><tspan x="958.5">32.65%</tspan></text>
</g>

<g id="row21" transform="translate(31.3,3025.3)">
<use href="#staff4"/>
<path class="lY" d="M0 30H75M120 30H225M540 30H585"/><path class="lG" d="M240 0H315M660 0H705"/><path class="lR" d="M360 15H435M600 15H645"/><path class="lB" d="M480 45H525"/>
<use href="#Y"/><use href="#Y" x="90"/><use href="#Y" x="120"/><use href="#G" x="240"/><use href="#G" x="330"/><use href="#R" x="360"/><use href="#R" x="450"/><use href="#B" x="480"/><use href="#Y" x="540"/><use href="#R" x="600"/><use href="#G" x="660"/><use href="#sR" x="720"/><use href="#sR" x="750"/><use href="#sR" x="780"/><use href="#sR" x="810"/><use href="#sR" x="840"/><use href="#sR" x="870"/><use href="#sR" x="900"/><use href="#sR" x="930"/>
<rect class="og" x="720" width="210" height="61"/><rect class="orr" x="330" width="6" height="61"/><rect class="ob" x="336" width="624" height="61"/>
<text class="mn" y="-8"><tspan x="0">81</tspan><tspan x="240">82</tspan><tspan x="480">83</tspan><tspan x="720">84</tspan></text>
<text class="tp" x="0" y="-20"><tspan class="q">♩</tspan>=112</text>
<text class="tp" x="240" y="-20"><tspan class="q">♩</tspan>=112</text>
<text class="tp" x="480" y="-20"><tspan class="q">♩</tspan>=110</text>
<text class="tp" x="720" y="-20"><tspan class="q">♩</tspan>=113</text>
<text class="a" y="77"><tspan x="238.5">111</tspan><tspan x="478.5">130</tspan><tspan x="718.5">136</tspan><tspan x="958.5">200</tspan></text>
<text class="b" y="89"><tspan x="238.5">65188</tspan><tspan x="478.5">66508</tspan><tspan x="718.5">68140</tspan><tspan x="958.5">70540</tspan></text>
<text class="c" y="102"><tspan x="238.5">32.65%</tspan><tspan x="478.5">25.24%</tspan><tspan x="718.5">12.74%</tspan><tspan x="958.5">25.24%</tspan></text>
</g>

<g id="row22" transform="translate(31.3,3166.3)">
<use href="#staff4"/>
<use href="#mA1"/><use href="#mA2" x="240"/><use href="#mA1" x="480"/><use href="#mA2" x="720"/>
<rect class="ob" x="0" width="960" height="61"/>
<text class="mn" y="-8"><tspan x="0">85</tspan><tspan x="240">86</tspan><tspan x="480">87</tspan><tspan x="720">88</tspan></text>
<text class="tp" x="0" y="-20"><tspan class="q">♩</tspan>=111</text>
<text class="tp" x="240" y="-20"><tspan class="q">♩</tspan>=112</text>
<text class="tp" x="480" y="-20"><tspan class="q">♩</tspan>=112</text>
<text class="tp" x="720" y="-20"><tspan class="q">♩</tspan>=112</text>
<text class="a" y="77"><tspan x="238.5">130</tspan><tspan x="478.5">165</tspan><tspan x="718.5">130</tspan><tspan x="958.5">165</tspan></text>
<text class="b" y="89"><tspan x="238.5">72100</tspan><tspan x="478.5">74080</tspan><tspan x="718.5">75640</tspan><tspan x="958.5">77620</tspan></text>
<text class="c" y="102"><tspan x="238.5">12.74%</tspan><tspan x="478.5">0.24%</tspan><tspan x="718.5">0.00%</tspan><tspan x="958.5">0.00%</tspan></text>
</g>

<g id="row23" transform="translate(31.3,3307.3)">
<use href="#staff4"/>
<use href="#mB1"/><use href="#mB2" x="240"/><use href="#mB3" x="480"/>
<path class="lY" d="M720 30H765M780 30H825"/>
<use href="#sY" x="720"/><use href="#sY" x="780"/><use href="#sB" x="840"/><use href="#sY" x="870"/><use href="#sR" x="900"/><use href="#sG" x="930"/>
<rect class="og" x="720" width="210" height="61"/><rect class="ob" x="0" width="3" height="61"/>
<text class="mn" y="-8"><tspan x="0">89</tspan><tspan x="240">90</tspan><tspan x="480">91</tspan><tspan x="720">92</tspan></text>
<text class="tp" x="0" y="-20"><tspan class="q">♩</tspan>=112</text>
<text class="tp" x="240" y="-20"><tspan class="q">♩</tspan>=111</text>
<text class="tp" x="480" y="-20"><tspan class="q">♩</tspan>=111</text>
<text class="tp" x="720" y="-20"><tspan class="q">♩</tspan>=112</text>
<text class="a" y="77"><tspan x="238.5">130</tspan><tspan x="478.5">130</tspan><tspan x="718.5">130</tspan><tspan x="958.5">168</tspan></text>
<text class="b" y="89"><tspan x="238.5">78556</tspan><tspan x="478.5">79336</tspan><tspan x="718.5">80116</tspan><tspan x="958.5">81124</tspan></text>
<text class="c" y="102"><tspan x="238.5">0.00%</tspan><tspan x="478.5">0.00%</tspan><tspan x="718.5">0.00%</tspan><tspan x="958.5">30.10%</tspan></text>
</g>

<g id="row24" transform="translate(31.3,3448.3)">
<use href="#staff4"/>
<use href="#mA1"/><use href="#mA2" x="240"/><use href="#mA1" x="480"/><use href="#mA2" x="720"/>
<text class="mn" y="-8"><tspan x="0">93</tspan><tspan x="240">94</tspan><tspan x="480">95</tspan><tspan x="720">96</tspan></text>
<text class="tp" x="0" y="-20"><tspan class="q">♩</tspan>=112</text>
<text class="tp" x="240" y="-20"><tspan class="q">♩</tspan>=112</text>
<text class="tp" x="480" y="-20"><tspan class="q">♩</tspan>=111</text>
<text class="tp" x="720" y="-20"><tspan class="q">♩</tspan>=112</text>
<text class="a" y="77"><tspan x="238.5">130</tspan><tspan x="478.5">165</tspan><tspan x="718.5">130</tspan><tspan x="958.5">165</tspan></text>
<text class="b" y="89"><tspan x="238.5">81904</tspan><tspan x="478.5">82894</tspan><tspan x="718.5">83674</tspan><tspan x="958.5">84664</tspan></text>
<text class="c" y="102"><tspan x="238.5">30.10%</tspan><tspan x="478.5">30.10%</tspan><tspan x="718.5">30.10%</tspan><tspan x="958.5">30.10%</tspan></text>
</g>

<g id="row25" transform="translate(31.3,3589.3)">
<use href="#staff4"/>
<use href="#mB1"/><use href="#mB2" x="240"/><use href="#mB3" x="480"/>
<use href="#sY" x="720"/><use href="#sY" x="750"/><use href="#sY" x="780"/><use href="#sY" x="810"/><use href="#sB" x="840"/><use href="#sY" x="870"/><use href="#sR" x="900"/><use href="#sG" x="930"/>
<rect class="og" x="720" width="210" height="61"/>
<text class="mn" y="-8"><tspan x="0">97</tspan><tspan x="240">98</tspan><tspan x="480">99</tspan><tspan x="720">100</tspan></text>
<text class="tp" x="0" y="-20"><tspan class="q">♩</tspan>=112</text>
<text class="tp" x="240" y="-20"><tspan class="q">♩</tspan>=111</text>
<text class="tp" x="480" y="-20"><tspan class="q">♩</tspan>=112</text>
<text class="tp" x="720" y="-20"><tspan class="q">♩</tspan>=112</text>
<text class="a" y="77"><tspan x="238.5">130</tspan><tspan x="478.5">130</tspan><tspan x="718.5">130</tspan><tspan x="958.5">200</tspan></text>
<text class="b" y="89"><tspan x="238.5">85444</tspan><tspan x="478.5">86224</tspan><tspan x="718.5">87004</tspan><tspan x="958.5">88204</tspan></text>
<text class="c" y="102"><tspan x="238.5">30.10%</tspan><tspan x="478.5">30.10%</tspan><tspan x="718.5">30.10%</tspan><tspan x="958.5">55.10%</tspan></text>
</g>

<g id="row26" transform="translate(31.3,3730.3)">
<use href="#staff4"/>
<use href="#mA1"/><use href="#mA2" x="240"/><use href="#mA1" x="480"/><use href="#mA2" x="720"/>
<rect class="orr" x="810" width="10" height="61"/><rect class="ob" x="820" width="140" height="61"/>
<text class="mn" y="-8"><tspan x="0">101</tspan><tspan x="240">102</tspan><tspan x="480">103</tspan><tspan x="720">104</tspan></text>
<text class="tp" x="0" y="-20"><tspan class="q">♩</tspan>=112</text>
<text class="tp" x="240" y="-20"><tspan class="q">♩</tspan>=112</text>
<text class="tp" x="480" y="-20"><tspan class="q">♩</tspan>=111</text>
<text class="tp" x="720" y="-20"><tspan class="q">♩</tspan>=112</text>
<text class="a" y="77"><tspan x="238.5">130</tspan><tspan x="478.5">165</tspan><tspan x="718.5">130</tspan><tspan x="958.5">165</tspan></text>
<text class="b" y="89"><tspan x="238.5">88984</tspan><tspan x="478.5">89974</tspan><tspan x="718.5">90754</tspan><tspan x="958.5">92494</tspan></text>
<text class="c" y="102"><tspan x="238.5">55.10%</tspan><tspan x="478.5">55.10%</tspan><tspan x="718.5">55.10%</tspan><tspan x="958.5">47.84%</tspan></text>
</g>

<g id="row27" transform="translate(31.3,3871.3)">
<use href="#staff4"/>
<use href="#mB1"/><use href="#mB2" x="240"/><use href="#mB3" x="480"/><use href="#mB4" x="720"/>
<rect class="ob" x="0" width="918" height="61"/><rect class="orr" x="918" width="12" height="61"/>
<text class="mn" y="-8"><tspan x="0">105</tspan><tspan x="240">106</tspan><tspan x="480">107</tspan><tspan x="720">108</tspan></text>
<text class="tp" x="0" y="-20"><tspan class="q">♩</tspan>=112</text>
<text class="tp" x="240" y="-20"><tspan class="q">♩</tspan>=111</text>
<text class="tp" x="480" y="-20"><tspan class="q">♩</tspan>=112</text>
<text class="tp" x="720" y="-20"><tspan class="q">♩</tspan>=112</text>
<text class="a" y="77"><tspan x="238.5">130</tspan><tspan x="478.5">130</tspan><tspan x="718.5">130</tspan><tspan x="958.5">200</tspan></text>
<text class="b" y="89"><tspan x="238.5">94054</tspan><tspan x="478.5">95614</tspan><tspan x="718.5">97174</tspan><tspan x="958.5">99574</tspan></text>
<text class="c" y="102"><tspan x="238.5">35.34%</tspan><tspan x="478.5">22.84%</tspan><tspan x="718.5">10.34%</tspan><tspan x="958.5">0.00%</tspan></text>
</g>

<g id="row28" transform="translate(31.3,4012.3)">
<rect class="yb" x="240" y="-10" width="315" height="81"/>
<use href="#staff4"/>
<use href="#mA1"/>
<path class="lR" d="M240 15H315"/><path class="lY" d="M480 30H555"/><path class="lG" d="M600 0H675"/>
<use href="#sR" x="240"/><use href="#sR" x="330"/><use href="#sR" x="360"/><use href="#sY" x="390"/><use href="#sR" x="420"/><use href="#sG" x="450"/><use href="#sY" x="480"/><use href="#G" x="570"/><use href="#G" x="600"/><use href="#R" x="690"/>
<use href="#mA2" x="720"/>
<rect class="og" x="240" width="315" height="61"/>
<text class="mn" y="-8"><tspan x="0">109</tspan><tspan x="240">110</tspan><tspan x="480">111</tspan><tspan x="720">112</tspan></text>
<text class="tp" x="0" y="-20"><tspan class="q">♩</tspan>=112</text>
<text class="tp" x="240" y="-20"><tspan class="q">♩</tspan>=112</text>
<text class="tp" x="480" y="-20"><tspan class="q">♩</tspan>=111</text>
<text class="tp" x="720" y="-20"><tspan class="q">♩</tspan>=111</text>
<text class="a" y="77"><tspan x="238.5">130</tspan><tspan x="478.5">165</tspan><tspan x="718.5">130</tspan><tspan x="958.5">165</tspan></text>
<text class="b" y="89"><tspan x="238.5">100354</tspan><tspan x="478.5">101344</tspan><tspan x="718.5">102124</tspan><tspan x="958.5">103114</tspan></text>
<text class="c" y="102"><tspan x="238.5">0.00%</tspan><tspan x="478.5">4.25%</tspan><tspan x="718.5">33.50%</tspan><tspan x="958.5">33.50%</tspan></text>
</g>

<g id="row29" transform="translate(31.3,4153.3)">
<use href="#staff4"/>
<use href="#mB1"/><use href="#mB2" x="240"/><use href="#mB3" x="480"/><use href="#mB4" x="720"/>
<rect class="orr" x="720" width="7.5" height="61"/><rect class="ob" x="727.5" width="232.5" height="61"/>
<text class="mn" y="-8"><tspan x="0">113</tspan><tspan x="240">114</tspan><tspan x="480">115</tspan><tspan x="720">116</tspan></text>
<text class="tp" x="0" y="-20"><tspan class="q">♩</tspan>=113</text>
<text class="tp" x="240" y="-20"><tspan class="q">♩</tspan>=111</text>
<text class="tp" x="480" y="-20"><tspan class="q">♩</tspan>=110</text>
<text class="tp" x="720" y="-20"><tspan class="q">♩</tspan>=113</text>
<text class="a" y="77"><tspan x="238.5">130</tspan><tspan x="478.5">130</tspan><tspan x="718.5">130</tspan><tspan x="958.5">200</tspan></text>
<text class="b" y="89"><tspan x="238.5">103894</tspan><tspan x="478.5">104674</tspan><tspan x="718.5">105454</tspan><tspan x="958.5">107854</tspan></text>
<text class="c" y="102"><tspan x="238.5">33.50%</tspan><tspan x="478.5">33.50%</tspan><tspan x="718.5">33.50%</tspan><tspan x="958.5">21.42%</tspan></text>
</g>

<g id="row30" transform="translate(31.3,4294.3)">
<use href="#staff4"/>
<use href="#mA1"/><use href="#mA2" x="240"/><use href="#mA1" x="480"/><use href="#mA2" x="720"/>
<rect class="ob" x="0" width="890" height="61"/><rect class="orr" x="890" width="10" height="61"/>
<text class="mn" y="-8"><tspan x="0">117</tspan><tspan x="240">118</tspan><tspan x="480">119</tspan><tspan x="720">120</tspan></text>
<text class="tp" x="0" y="-20"><tspan class="q">♩</tspan>=111</text>
<text class="tp" x="240" y="-20"><tspan class="q">♩</tspan>=112</text>
<text class="tp" x="480" y="-20"><tspan class="q">♩</tspan>=111</text>
<text class="tp" x="720" y="-20"><tspan class="q">♩</tspan>=113</text>
<text class="a" y="77"><tspan x="238.5">130</tspan><tspan x="478.5">165</tspan><tspan x="718.5">130</tspan><tspan x="958.5">165</tspan></text>
<text class="b" y="89"><tspan x="238.5">109414</tspan><tspan x="478.5">111394</tspan><tspan x="718.5">112954</tspan><tspan x="958.5">114784</tspan></text>
<text class="c" y="102"><tspan x="238.5">8.92%</tspan><tspan x="478.5">0.00%</tspan><tspan x="718.5">0.00%</tspan><tspan x="958.5">0.00%</tspan></text>
</g>

<g id="row31" transform="translate(31.3,4435.3)">
<use href="#staff4"/>
<use href="#mB1"/><use href="#mB2" x="240"/><use href="#mB3" x="480"/><use href="#mB4" x="720"/>
<text class="mn" y="-8"><tspan x="0">121</tspan><tspan x="240">122</tspan><tspan x="480">123</tspan><tspan x="720">124</tspan></text>
<text class="tp" x="0" y="-20"><tspan class="q">♩</tspan>=111</text>
<text class="tp" x="240" y="-20"><tspan class="q">♩</tspan>=111</text>
<text class="tp" x="480" y="-20"><tspan class="q">♩</tspan>=112</text>
<text class="tp" x="720" y="-20"><tspan class="q">♩</tspan>=112</text>
<text class="a" y="77"><tspan x="238.5">130</tspan><tspan x="478.5">130</tspan><tspan x="718.5">130</tspan><tspan x="958.5">200</tspan></text>
<text class="b" y="89"><tspan x="238.5">115564</tspan><tspan x="478.5">116344</tspan><tspan x="718.5">117124</tspan><tspan x="958.5">118324</tspan></text>
<text class="c" y="102"><tspan x="238.5">0.00%</tspan><tspan x="478.5">0.00%</tspan><tspan x="718.5">0.00%</tspan><tspan x="958.5">0.00%</tspan></text>
</g>

<g id="row32" transform="translate(31.3,4576.3)">
<use href="#staff1"/>
<path class="lY" d="M0 30H90"/><use href="#Y"/>
<text class="mn" x="0" y="-8">125</text>
<text class="a" x="238.5" y="77">43</text>
<text class="b" x="238.5" y="89">118582</text>
<text class="c" x="238.5" y="102">0.00%</text>
</g>
</g>
</svg>
